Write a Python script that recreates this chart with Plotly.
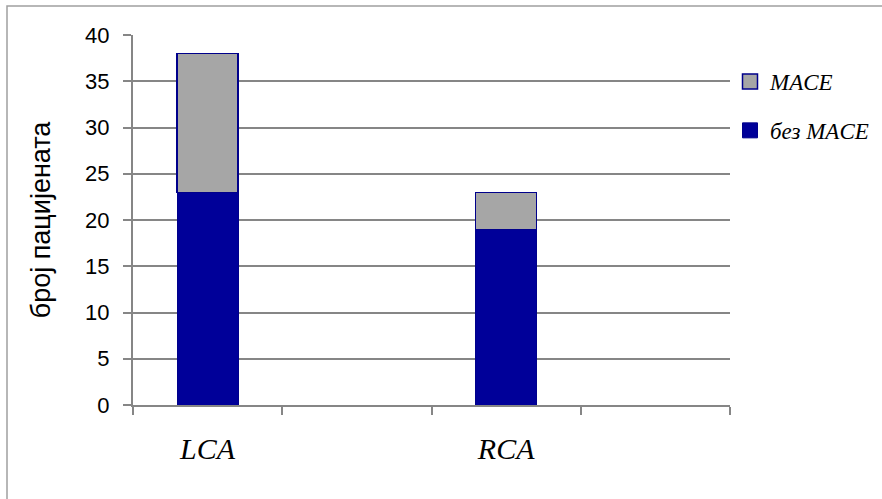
import plotly.graph_objects as go

# Category slots on the x axis (two empty slots keep the original spacing)
categories = ["LCA", " ", "RCA", "  "]
bar_categories = ["LCA", "RCA"]
no_mace = [23, 19]
mace = [15, 4]
y_ticks = [0, 5, 10, 15, 20, 25, 30, 35, 40]

DARK = "#000099"
GREY = "#A6A6A6"
EDGE = "#00008B"
SERIF = "Liberation Serif, Times New Roman, serif"
SANS = "Liberation Sans, Arial, sans-serif"

fig = go.Figure()
fig.add_trace(go.Bar(
    x=bar_categories, y=no_mace, name="без MACE", showlegend=False,
    marker=dict(color=DARK, line=dict(color=EDGE, width=1)), width=0.41,
))
fig.add_trace(go.Bar(
    x=bar_categories, y=mace, name="MACE", showlegend=False,
    marker=dict(color=GREY, line=dict(color=EDGE, width=1.5)), width=0.41,
))

# Legend entries with larger square swatches
fig.add_trace(go.Scatter(
    x=[None], y=[None], mode="markers", name="<i>MACE</i>", legendgroup="a", legendrank=1,
    marker=dict(symbol="square", size=15, color=GREY, line=dict(color=EDGE, width=1.5)),
))
fig.add_trace(go.Scatter(
    x=[None], y=[None], mode="markers", name="<i>без MACE</i>", legendgroup="b", legendrank=2,
    marker=dict(symbol="square", size=15, color=DARK, line=dict(color=EDGE, width=1)),
))

W, H = 882, 499
ml, mr, mt, mb = 133, 152, 35, 94
pw, ph = W - ml - mr, H - mt - mb

fig.update_layout(
    width=W, height=H,
    margin=dict(l=ml, r=mr, t=mt, b=mb, autoexpand=False),
    barmode="stack",
    plot_bgcolor="white", paper_bgcolor="white",
    showlegend=True,
    legend=dict(
        x=(730 - ml) / pw, y=(405 - 60) / ph, xanchor="left", yanchor="top",
        traceorder="grouped", tracegroupgap=16, itemsizing="trace",
        font=dict(family=SERIF, size=23, color="black"),
        itemwidth=30, bgcolor="rgba(0,0,0,0)",
    ),
    xaxis=dict(
        type="category", categoryorder="array", categoryarray=categories,
        tickvals=categories, ticktext=["<i>LCA</i>", " ", "<i>RCA</i>", "  "],
        range=[-0.5, 3.5], tickson="boundaries", ticks="outside", ticklen=8,
        tickcolor="#868686", tickwidth=1.5, ticklabelstandoff=16,
        showline=True, linecolor="#868686", linewidth=2,
        showgrid=False,
        tickfont=dict(family=SERIF, size=30, color="black"),
    ),
    yaxis=dict(
        range=[0, 40], tickvals=y_ticks, ticks="outside", ticklen=8,
        tickcolor="#868686", tickwidth=1.5, ticklabelstandoff=9,
        showline=True, linecolor="#868686", linewidth=2,
        showgrid=True, gridcolor="#868686", gridwidth=2,
        zeroline=False,
        tickfont=dict(family=SANS, size=22, color="black"),
        title=dict(text="број пацијената", standoff=27,
                   font=dict(family=SANS, size=27, color="black")),
    ),
    shapes=[dict(
        type="rect", xref="paper", yref="paper", layer="below",
        x0=(7 - ml) / pw, x1=(900 - ml) / pw,
        y0=(405 - 520) / ph, y1=(405 - 6) / ph,
        line=dict(color="#A0A0A0", width=1.5), fillcolor="rgba(0,0,0,0)",
    )],
)

fig.write_html("out.html")
